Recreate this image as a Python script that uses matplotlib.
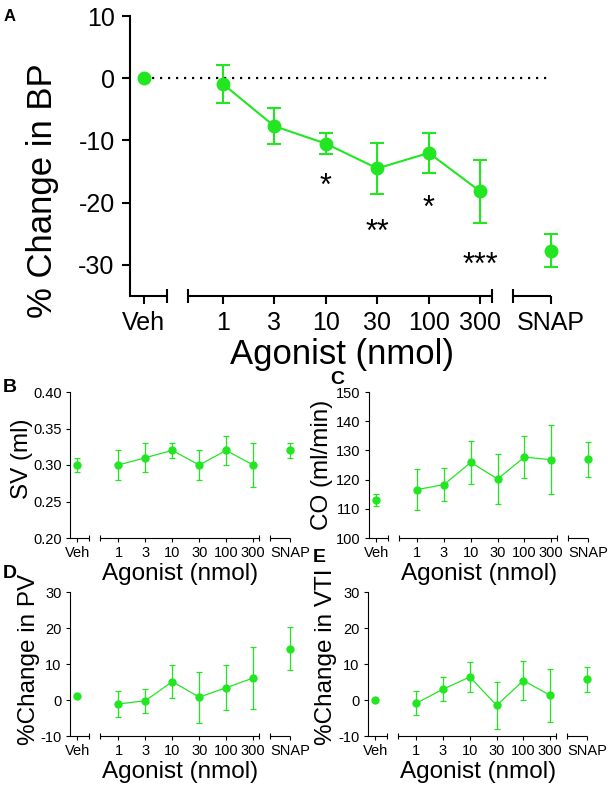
import numpy as np
import matplotlib
matplotlib.use("Agg")
import matplotlib.pyplot as plt

plt.rcParams["font.family"] = ["Liberation Sans", "DejaVu Sans"]
plt.rcParams["axes.unicode_minus"] = False

GREEN = "#22e622"

doses = ["1", "3", "10", "30", "100", "300"]
tick_labels = ["Veh"] + doses + ["SNAP"]

bp_mean = [0.0, -0.9, -7.7, -10.5, -14.5, -12.0, -18.2, -27.7]
bp_err = [0.0, 3.05, 2.85, 1.7, 4.15, 3.2, 5.0, 2.7]
bp_stars = ["", "", "", "*", "**", "*", "***", ""]
bp_star_y = [0, 0, 0, -17.5, -24.8, -21.0, -30.2, 0]

sv_mean = [0.30, 0.30, 0.31, 0.32, 0.30, 0.32, 0.30, 0.32]
sv_err = [0.01, 0.02, 0.02, 0.01, 0.02, 0.02, 0.03, 0.01]

co_mean = [113.0, 116.6, 118.3, 125.9, 120.2, 127.7, 126.8, 127.0]
co_err = [2.1, 6.9, 5.7, 7.4, 8.7, 7.1, 11.8, 6.0]

pv_mean = [1.1, -1.1, -0.2, 5.1, 0.8, 3.4, 6.1, 14.3]
pv_err = [0.0, 3.6, 3.35, 4.5, 7.05, 6.2, 8.5, 6.05]

vti_mean = [0.0, -0.9, 3.0, 6.4, -1.5, 5.4, 1.3, 5.7]
vti_err = [0.0, 3.3, 3.4, 4.05, 6.45, 5.3, 7.45, 3.5]

# x layout of the segmented GraphPad-style axis
VEH_X, SNAP_X = -1.53, 6.37
X_POS = np.r_[VEH_X, np.arange(len(doses)), SNAP_X]
XLIM = (-1.8, 6.41)
SEGMENTS = [(-1.8, -1.08), (-0.68, 5.22), (5.63, SNAP_X)]

BIG = dict(lw=1.5, ms=9, cap=4.7, axlw=1.5, tick=6, barlen=9.5,
           tickfs=18, labelfs=25, pad=5)
SMALL = dict(lw=0.9, ms=5, cap=2.5, axlw=0.8, tick=3, barlen=5,
             tickfs=10.5, labelfs=17.5, pad=3)


def draw(ax, mean, err, ylim, yticks, ylabel, s, label_xy):
    mean = np.asarray(mean)
    err = np.asarray(err)
    kw = dict(color=GREEN, marker="o", ms=s["ms"], lw=s["lw"],
              elinewidth=s["lw"], capsize=s["cap"], capthick=s["lw"],
              clip_on=False, zorder=3)
    ax.errorbar(X_POS[1:7], mean[1:7], yerr=err[1:7], **kw)
    for i in (0, 7):
        ax.errorbar(X_POS[i], mean[i], yerr=err[i] if err[i] > 0 else None, **kw)

    ax.set_xlim(*XLIM)
    ax.set_ylim(*ylim)
    ax.set_yticks(yticks)
    if isinstance(yticks[0], float) and yticks[1] - yticks[0] < 1:
        ax.set_yticklabels([f"{v:.2f}" for v in yticks])
    for side in ("top", "right", "bottom"):
        ax.spines[side].set_visible(False)
    ax.spines["left"].set_linewidth(s["axlw"])

    tr = ax.get_xaxis_transform()
    for x0, x1 in SEGMENTS:
        ax.plot([x0, x1], [0, 0], color="k", lw=s["axlw"], transform=tr,
                clip_on=False, solid_capstyle="butt")
    caps = [SEGMENTS[0][1], SEGMENTS[1][0], SEGMENTS[1][1], SEGMENTS[2][0]]
    ax.plot(caps, [0] * len(caps), ls="none", marker="|", ms=s["barlen"],
            mew=s["axlw"], color="k", transform=tr, clip_on=False)

    ax.set_xticks(X_POS, tick_labels)
    ax.tick_params(axis="both", direction="out", length=s["tick"],
                   width=s["axlw"], labelsize=s["tickfs"], pad=s["pad"])
    ax.set_xlabel("Agonist (nmol)", fontsize=s["labelfs"], labelpad=2)
    ax.set_ylabel(ylabel, fontsize=s["labelfs"], va="center")
    ax.yaxis.set_label_coords(*label_xy)


W, H = 610, 791
fig = plt.figure(figsize=(W / 100, H / 100), dpi=100)


def axes_px(left, top, right, bottom):
    return fig.add_axes([left / W, 1 - bottom / H, (right - left) / W, (bottom - top) / H])


axA = axes_px(130, 16, 553, 296)
draw(axA, bp_mean, bp_err, (-35, 10), [10, 0, -10, -20, -30], "% Change in BP", BIG,
     (-0.207, 0.375))
axA.plot([VEH_X, SNAP_X], [0, 0], color="k", lw=1.6, ls=(0, (1, 2.6)), zorder=1)
for x, st, y in zip(X_POS, bp_stars, bp_star_y):
    if st:
        axA.text(x, y, st, ha="center", va="center", fontsize=22)

axB = axes_px(70, 392, 291, 538)
draw(axB, sv_mean, sv_err, (0.20, 0.40), [0.20, 0.25, 0.30, 0.35, 0.40], "SV (ml)", SMALL,
     (-0.217, 0.545))

axC = axes_px(369, 392, 589, 538)
draw(axC, co_mean, co_err, (100, 150), [100, 110, 120, 130, 140, 150], "CO (ml/min)", SMALL,
     (-0.214, 0.50))

axD = axes_px(70, 592, 291, 736)
draw(axD, pv_mean, pv_err, (-10, 30), [-10, 0, 10, 20, 30], "%Change in PV", SMALL,
     (-0.185, 0.535))

axE = axes_px(368, 592, 588, 736)
draw(axE, vti_mean, vti_err, (-10, 30), [-10, 0, 10, 20, 30], "%Change in VTI", SMALL,
     (-0.19, 0.55))

for letter, (px, py), fs in [("A", (4, 21), 12), ("B", (3, 392), 14),
                              ("C", (330, 384), 14), ("D", (3, 578), 14),
                              ("E", (313, 562), 14)]:
    fig.text(px / W, 1 - py / H, letter, fontsize=fs, fontweight="bold")

fig.savefig("out.png", dpi=100)
